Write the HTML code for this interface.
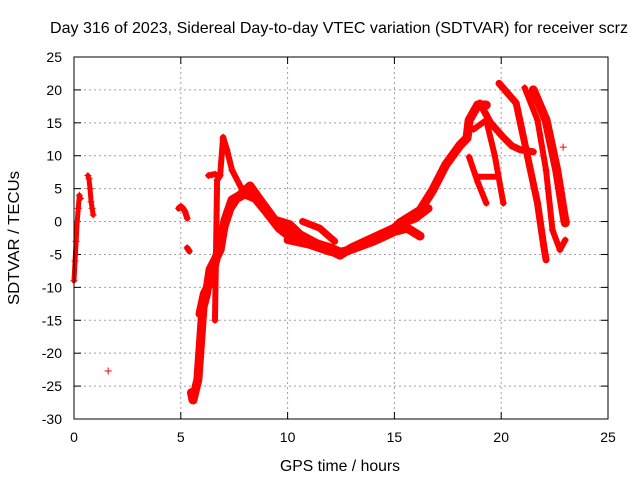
<!DOCTYPE html>
<html><head><meta charset="utf-8"><style>
body{margin:0;background:#fff}
svg{display:block;font-family:"Liberation Sans",sans-serif}
</style></head><body>
<svg id="chart" width="640" height="480">
<text x="339" y="33" text-anchor="middle" font-size="16" textLength="578" lengthAdjust="spacingAndGlyphs">Day 316 of 2023, Sidereal Day-to-day VTEC variation (SDTVAR) for receiver scrz</text>
<text x="340" y="471" text-anchor="middle" font-size="16" textLength="120" lengthAdjust="spacingAndGlyphs">GPS time / hours</text>
<text x="19" y="238" text-anchor="middle" font-size="16" textLength="134" lengthAdjust="spacingAndGlyphs" transform="rotate(-90 19 238)">SDTVAR / TECUs</text>
<g id="grid"></g>
<g id="marks"></g>
<rect x="74" y="57" width="534" height="362" fill="none" stroke="#000" stroke-width="1"/>
</svg>
<script>
const xTicks=[0,5,10,15,20,25];
const yTicks=[25,20,15,10,5,0,-5,-10,-15,-20,-25,-30];
const track1X=[0,0.05,0.1,0.15,0.2,0.25,0.3];
const track1Y=[-9,-6,-3,0,2,4,3.5];
const track2X=[0.65,0.7,0.75,0.8,0.85,0.9];
const track2Y=[7,6.5,5,3,2,1];
const track3X=[1.6];
const track3Y=[-22.7];
const track4X=[4.9,5.0,5.1,5.2,5.3];
const track4Y=[2,2.3,2,1.5,0.5];
const track5X=[5.3,5.4];
const track5Y=[-4,-4.5];
const mainX=[5.5,5.57,5.8,6.04,6.2,6.37,6.84,7.07,7.4,7.77,8.24,8.7,9.4,10.1,10.58,11.5,12.45,13,14,15,15.26,16.2,16.8,17.4,18.07,18.4,18.5,18.9,19.3];
const mainY=[-26,-27.1,-24,-13,-11,-7.3,-4.3,0.2,3.3,4,5.4,3.3,0.2,-0.5,-2,-3.6,-5.1,-4,-2.5,-1,-0.2,1.7,4.8,8.6,11.6,12.7,15.4,17.7,17.7];
const main2X=[5.9,6.1,6.4,6.7,7.0,7.3,7.6,8.0,8.5,9.0,9.6,10.2];
const main2Y=[-14,-11,-9,-5,-1,2,3.5,4.2,3.5,1.5,-1,-2.5];
const lowX=[9.8,10.3,11,12,12.5,13,14,15,15.6,16.2];
const lowY=[-1.5,-2.5,-3,-4,-4.7,-4.2,-3,-1.5,-1,-2.2];
const low2X=[10,11,12,12.8,13.5,14.5,15.2,16.0,16.6];
const low2Y=[-2.8,-3.5,-4.6,-4.5,-3.5,-2,-0.5,0.5,2];
const upperX=[10.7,11.5,12.2];
const upperY=[0,-1,-3];
const spikeX=[6.6,6.7,6.84,6.98,7.16,7.4,7.77,8.0];
const spikeY=[-15,6.3,7,12.8,10.9,7.8,5.5,4];
const shortX=[6.3,6.45,6.6];
const shortY=[7,7.1,7.2];
const branchAX=[19.0,19.5,20.1,20.5,20.9,21.5];
const branchAY=[18,15,12.8,11.5,10.9,10.6];
const branchBX=[18.7,19.3,19.7,20.1];
const branchBY=[14,15.4,10,2.8];
const branchCX=[18.5,18.9,19.3];
const branchCY=[9.8,6,2.8];
const flatX=[18.9,19.8];
const flatY=[6.8,6.8];
const desc1X=[19.9,20.7,21.2,21.7,22.0,22.1];
const desc1Y=[21,18,10.4,2.8,-3.9,-5.8];
const desc2X=[21.1,21.7,22.1,22.4,22.75,23.0];
const desc2Y=[20.3,15.4,7.8,-1.3,-4.3,-2.8];
const desc3X=[21.5,22.1,22.6,22.9,23.0];
const desc3Y=[20,15.4,7.8,1.7,-0.2];
const dotX=[22.9];
const dotY=[11.3];

const NS='http://www.w3.org/2000/svg';
const X=v=>74+v*534/25;
const Y=v=>57+(25-v)*362/55;
const grid=document.getElementById('grid');
const marks=document.getElementById('marks');
function mk(tag,attrs,parent){const e=document.createElementNS(NS,tag);for(const k in attrs)e.setAttribute(k,attrs[k]);parent.appendChild(e);return e;}
xTicks.forEach(t=>{
  if(t>0&&t<25){const l=mk('line',{x1:X(t),x2:X(t),y1:57,y2:419,stroke:'#a0a0a0','stroke-dasharray':'2,3'},grid);
  
  }
  mk('line',{x1:X(t),x2:X(t),y1:419,y2:412,stroke:'#000'},grid);
  mk('line',{x1:X(t),x2:X(t),y1:57,y2:64,stroke:'#000'},grid);
  const tx=mk('text',{x:X(t),y:442,'text-anchor':'middle','font-size':'14'},grid);
  tx.textContent=t;
  
  
});
yTicks.forEach(t=>{
  if(t<25&&t>-30){const l=mk('line',{x1:74,x2:608,y1:Y(t),y2:Y(t),stroke:'#a0a0a0','stroke-dasharray':'2,3'},grid);
  
  }
  mk('line',{x1:74,x2:81,y1:Y(t),y2:Y(t),stroke:'#000'},grid);
  mk('line',{x1:608,x2:601,y1:Y(t),y2:Y(t),stroke:'#000'},grid);
  const tx=mk('text',{x:62,y:Y(t)+5,'text-anchor':'end','font-size':'14'},grid);
  tx.textContent=t;
  
  
});
const series=[[track1X,track1Y,5],[track2X,track2Y,5],[track3X,track3Y,0],[track4X,track4Y,6],[track5X,track5Y,6],
[mainX,mainY,9],[main2X,main2Y,9],[lowX,lowY,9],[low2X,low2Y,8],[upperX,upperY,7],[spikeX,spikeY,6],[shortX,shortY,6],[branchAX,branchAY,7],[branchBX,branchBY,6],
[branchCX,branchCY,6],[flatX,flatY,6],[desc1X,desc1Y,7],[desc2X,desc2Y,6],[desc3X,desc3Y,9],[dotX,dotY,0]];
series.forEach(([xs,ys,w])=>{
  if(xs.length>1&&w>0){
    const p=mk('polyline',{points:xs.map((x,i)=>X(x)+','+Y(ys[i])).join(' '),fill:'none',stroke:'#f00','stroke-width':w,'stroke-linejoin':'round','stroke-linecap':'round'},marks);
    
    
  }
  xs.forEach((x,i)=>{
    const px=X(x),py=Y(ys[i]);
    const m=mk('path',{d:`M${px-3.5},${py}H${px+3.5}M${px},${py-3.5}V${py+3.5}`,stroke:'#f00','stroke-width':1},marks);
    
    
  });
});
</script>
</body></html>
